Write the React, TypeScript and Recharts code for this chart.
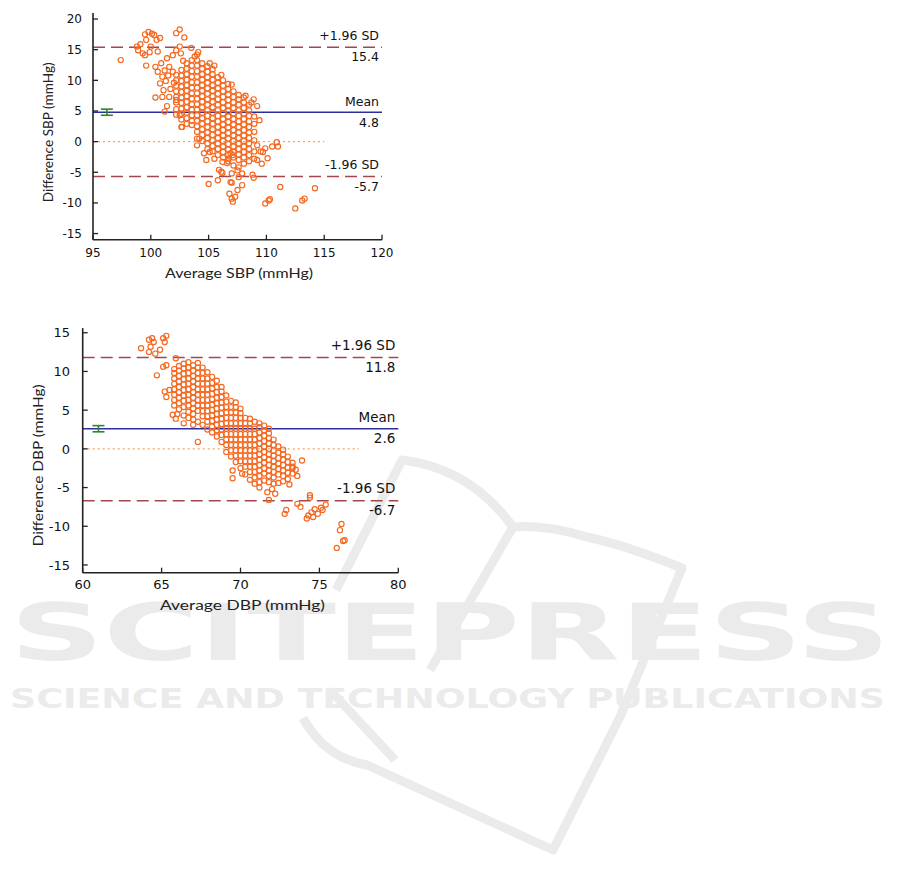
import React from 'react';
import { ScatterChart, Scatter, XAxis, YAxis, ReferenceLine, ErrorBar } from 'recharts';

// ---- SBP panel ----
const sbpXTicks = [95, 100, 105, 110, 115, 120];
const sbpYTicks = [-15, -10, -5, 0, 5, 10, 15, 20];
const sbpUpper = 15.4;
const sbpMean = 4.8;
const sbpLower = -5.7;
const sbpMeanCI = 0.5;

// dense part of the cloud, one column of differences per average value
const sbpCore: [number, number[]][] = [
  [102.2, [4.4, 5.3, 6.4, 7.3, 8.2, 9.1, 10.0, 10.9]],
  [102.65, [2.4, 3.6, 4.5, 5.4, 6.3, 7.2, 8.1, 9.0, 9.9, 10.8, 11.7]],
  [103.1, [2.9, 3.8, 4.7, 5.6, 6.5, 7.4, 8.3, 9.2, 10.1, 11.0, 11.9, 12.8]],
  [103.55, [2.7, 3.4, 4.3, 5.2, 6.1, 7.0, 7.9, 8.8, 9.7, 10.6, 11.5, 12.4, 13.3]],
  [104.0, [0.5, 1.6, 2.5, 3.4, 4.3, 5.2, 6.1, 7.0, 7.9, 8.8, 9.7, 10.6, 11.5, 12.4, 13.3, 14.2]],
  [104.45, [0.1, 1.1, 2.0, 2.9, 3.8, 4.7, 5.6, 6.5, 7.4, 8.3, 9.2, 10.1, 11.0, 11.9, 12.8]],
  [104.9, [-1.2, -0.3, 0.6, 1.5, 2.4, 3.3, 4.2, 5.1, 6.0, 6.9, 7.8, 8.7, 9.6, 10.5, 11.4, 12.3]],
  [105.35, [-1.6, -0.7, 0.2, 1.1, 2.0, 2.9, 3.8, 4.7, 5.6, 6.5, 7.4, 8.3, 9.2, 10.1, 11.0, 11.8]],
  [105.8, [-2.2, -1.2, -0.3, 0.6, 1.5, 2.4, 3.3, 4.2, 5.1, 6.0, 6.9, 7.8, 8.7, 9.6, 10.5]],
  [106.25, [-2.6, -1.7, -0.8, 0.1, 1.0, 1.9, 2.8, 3.7, 4.6, 5.5, 6.4, 7.3, 8.2, 9.1, 10.0]],
  [106.7, [-3.2, -2.2, -1.3, -0.4, 0.5, 1.4, 2.3, 3.2, 4.1, 5.0, 5.9, 6.8, 7.7, 8.6, 9.4]],
  [107.15, [-3.9, -2.6, -1.7, -0.8, 0.1, 1.0, 1.9, 2.8, 3.7, 4.6, 5.5, 6.4, 7.3, 8.2]],
  [107.6, [-4.2, -3.0, -2.1, -1.2, -0.3, 0.6, 1.5, 2.4, 3.3, 4.2, 5.1, 6.0, 6.9, 7.6]],
  [108.05, [-3.6, -2.6, -1.7, -0.8, 0.1, 1.0, 1.9, 2.8, 3.7, 4.6, 5.5, 6.4, 7.2]],
  [108.5, [-3.2, -2.2, -1.2, -0.3, 0.6, 1.5, 2.4, 3.3, 4.2, 5.1, 6.0]],
  [108.95, [-2.8, -1.6, 0.2, 1.6, 2.9, 4.1]],
];

const sbpSparse: [number, number][] = [
  [97.4, 13.3], [98.8, 15.5], [98.9, 14.9], [99.1, 15.9], [99.3, 14.4], [99.5, 17.5],
  [99.6, 16.6], [99.5, 14.1], [99.6, 12.4], [99.8, 17.9], [100.0, 15.5], [100.1, 17.6],
  [100.3, 17.4], [100.5, 16.6], [100.8, 16.9], [100.6, 14.7], [99.9, 14.6],
  [102.2, 17.7], [102.5, 18.3], [102.9, 17.0], [102.2, 14.9], [102.5, 15.5], [102.6, 14.4],
  [101.9, 14.1], [103.5, 15.3], [102.8, 13.2],
  [100.4, 12.2], [100.6, 11.4], [100.9, 12.8], [101.0, 10.6], [101.2, 11.6], [100.8, 9.5],
  [101.3, 9.9], [101.1, 8.4], [101.5, 10.8], [101.4, 13.6], [101.6, 12.2], [101.9, 11.4],
  [100.4, 7.2], [101.0, 7.3], [101.6, 7.3], [101.7, 8.6], [102.0, 9.6], [101.2, 4.9],
  [101.4, 5.8], [102.2, 6.8], [102.7, 2.4], [102.5, 4.3],
  [104.1, 14.6], [103.8, 13.9], [105.1, 12.8], [105.5, 12.4], [106.1, 10.9], [107.0, 9.3],
  [108.2, 7.5], [108.7, 6.4], [108.9, 6.9], [109.2, 5.8], [109.4, 3.5],
  [105.0, -6.9], [105.8, -6.3], [106.1, -4.9], [105.9, -4.6], [106.2, -5.1], [106.2, -3.3],
  [106.6, -3.5], [107.0, -5.2], [107.0, -6.7], [106.9, -6.6], [107.6, -5.8], [107.9, -5.2],
  [107.5, -4.7], [107.5, -7.9], [107.9, -7.1], [106.8, -8.5], [107.0, -9.3], [107.1, -9.8],
  [107.3, -9.0], [108.8, -5.4], [108.9, -5.9], [109.9, -10.1], [110.2, -9.6], [110.3, -9.4],
  [111.2, -7.4], [112.5, -10.9], [113.1, -9.6], [113.3, -9.3], [114.2, -7.6],
  [110.9, -0.1], [111.0, -0.8], [110.5, -0.8], [109.9, -1.1], [110.1, -2.7], [109.6, -3.6],
  [109.2, -3.0], [109.5, -1.6], [109.2, -0.6], [109.7, -1.7],
  [104.8, -3.0], [104.6, -1.9], [104.0, -0.6], [104.2, 0.5], [105.1, -1.7], [105.5, -2.8],
  [106.9, -1.9], [107.1, -2.2], [106.7, -2.8],
];

// ---- DBP panel ----
const dbpXTicks = [60, 65, 70, 75, 80];
const dbpYTicks = [-15, -10, -5, 0, 5, 10, 15];
const dbpUpper = 11.8;
const dbpMean = 2.6;
const dbpLower = -6.7;
const dbpMeanCI = 0.4;

const dbpCore: [number, number[]][] = [
  [65.8, [5.6, 6.3, 7.0, 7.7, 8.4, 9.1, 9.8, 10.3]],
  [66.1, [5.1, 5.9, 6.6, 7.3, 8.0, 8.7, 9.4, 10.1, 10.7]],
  [66.4, [4.3, 5.4, 6.2, 6.9, 7.6, 8.3, 9.0, 9.7, 10.4, 11.0]],
  [66.7, [4.0, 4.8, 5.6, 6.3, 7.0, 7.7, 8.4, 9.1, 9.8, 10.5, 11.2]],
  [67.0, [3.8, 4.5, 5.2, 5.9, 6.6, 7.3, 8.0, 8.7, 9.4, 10.1, 10.8]],
  [67.3, [3.5, 4.9, 5.6, 6.3, 7.0, 7.7, 8.4, 9.1, 9.8, 10.5, 11.1]],
  [67.6, [3.1, 4.2, 4.9, 5.6, 6.3, 7.0, 7.7, 8.4, 9.1, 9.8, 10.5]],
  [67.9, [2.5, 3.5, 4.2, 4.9, 5.6, 6.3, 7.0, 7.7, 8.4, 9.1, 9.9]],
  [68.2, [2.1, 2.9, 3.6, 4.3, 5.0, 5.7, 6.4, 7.1, 7.8, 8.5, 9.3]],
  [68.5, [1.6, 2.4, 3.1, 3.8, 4.5, 5.2, 5.9, 6.6, 7.3, 8.0, 8.8]],
  [68.8, [0.9, 1.8, 2.5, 3.2, 3.9, 4.6, 5.3, 6.0, 6.7, 7.4, 8.0]],
  [69.1, [-0.4, 0.5, 1.2, 1.9, 2.6, 3.3, 4.0, 4.7, 5.4, 6.1, 6.9]],
  [69.4, [-1.0, -0.2, 0.5, 1.2, 1.9, 2.6, 3.3, 4.0, 4.7, 5.4, 6.2]],
  [69.7, [-1.7, -0.9, -0.2, 0.5, 1.2, 1.9, 2.6, 3.3, 4.0, 4.7, 5.4, 6.0]],
  [70.0, [-2.5, -1.6, -0.9, -0.2, 0.5, 1.2, 1.9, 2.6, 3.3, 4.0, 4.6, 5.2]],
  [70.3, [-3.3, -2.3, -1.6, -0.9, -0.2, 0.5, 1.2, 1.9, 2.6, 3.3, 4.0]],
  [70.6, [-4.0, -3.0, -2.3, -1.6, -0.9, -0.2, 0.5, 1.2, 1.9, 2.6, 3.3, 3.9]],
  [70.9, [-4.5, -3.7, -3.0, -2.3, -1.6, -0.9, -0.2, 0.5, 1.2, 1.9, 2.6, 3.5]],
  [71.2, [-4.3, -3.5, -2.8, -2.1, -1.4, -0.7, 0.0, 0.7, 1.4, 2.1, 2.8, 3.3]],
  [71.5, [-4.1, -3.2, -2.5, -1.8, -1.1, -0.4, 0.3, 1.0, 1.7, 2.4, 3.0]],
  [71.8, [-4.3, -3.5, -2.8, -2.1, -1.4, -0.7, 0.0, 0.7, 1.4, 2.0, 2.6]],
  [72.1, [-4.5, -3.7, -3.0, -2.3, -1.6, -0.9, -0.2, 0.5, 1.2]],
  [72.4, [-4.4, -3.3, -2.6, -1.9, -1.2, -0.5, 0.3]],
  [72.7, [-4.2, -3.5, -2.8, -2.1, -1.4, -0.7, -0.1]],
  [73.0, [-3.9, -3.1, -2.4, -1.7, -1.0]],
  [73.3, [-3.2, -2.5, -1.8]],
];

const dbpSparse: [number, number][] = [
  [63.7, 13.0], [64.2, 14.1], [64.4, 14.3], [64.5, 13.8], [64.3, 13.2], [64.2, 12.5],
  [64.6, 12.3], [64.9, 12.8], [65.1, 14.3], [65.3, 14.6], [65.2, 13.8], [64.7, 9.5],
  [65.1, 10.6], [65.3, 10.8], [65.2, 7.4], [65.3, 6.7], [65.9, 11.7], [65.7, 4.4],
  [65.9, 3.9], [66.4, 3.3], [67.0, 3.1], [67.3, 0.9], [65.5, 7.6], [66.0, 4.5],
  [69.5, -2.8], [69.5, -3.8], [70.1, -3.2], [71.8, -6.6], [71.7, -5.6], [72.2, -5.8],
  [72.8, -8.4], [72.9, -7.9], [73.6, -7.1], [73.8, -7.5], [74.4, -6.0], [74.4, -6.3],
  [74.3, -8.6], [74.2, -9.0], [74.5, -8.2], [74.7, -7.8], [74.6, -8.8], [74.9, -8.4],
  [75.1, -7.6], [75.2, -7.9], [75.4, -7.2], [76.3, -10.5], [76.4, -9.7], [76.6, -11.8],
  [76.5, -11.9], [76.1, -12.8], [73.3, -2.3], [73.9, -1.5], [73.5, -2.7], [73.6, -3.5],
  [73.1, -4.6], [72.0, -5.2], [71.2, -5.0],
];

const ORANGE = '#f5681f';
const MAROON = '#a3474c';
const BLUE = '#2e2e9e';
const GREEN = '#2a8a2a';
const ZERO = '#f5a05a';
const AXIS = '#222';
const WATERMARK = '#ebebeb';
const NUM_FONT = 'DejaVu Sans, sans-serif';
const TITLE_FONT = 'Lato, sans-serif';

const Y_AXIS_W = 60;
const X_AXIS_H = 40;

type Pt = { x: number; y: number };

const toPoints = (core: [number, number[]][], sparse: [number, number][]): Pt[] => [
  ...core.flatMap(([x, ys]) => ys.map((y) => ({ x, y }))),
  ...sparse.map(([x, y]) => ({ x, y })),
];

const Ring = (props: any) => {
  const { cx, cy } = props;
  if (cx == null || cy == null) return <g />;
  return <circle cx={cx} cy={cy} r={2.6} fill="none" stroke={ORANGE} strokeWidth={1.15} />;
};

interface PanelProps {
  width: number;
  height: number;
  margin: { top: number; right: number; bottom: number; left: number };
  xDomain: [number, number];
  yDomain: [number, number];
  xTicks: number[];
  yTicks: number[];
  points: Pt[];
  upper: number;
  mean: number;
  lower: number;
  meanCI: number;
  ciX: number;
  zeroEnd: number;
  xTitle: string;
  yTitle: string;
  tickFont: number;
  labelFont: number;
  titleFont: number;
  yTickGap: number;
  xTickGap: number;
  xTitleLen: number;
  yTitleLen: number;
  xTitleShift: number;
  yTitleX: number;
  yTitleShift: number;
  titleGap: number;
}

function Panel(p: PanelProps) {
  const plotLeft = p.margin.left + Y_AXIS_W;
  const plotRight = p.width - p.margin.right;
  const plotTop = p.margin.top;
  const plotBottom = p.height - p.margin.bottom - X_AXIS_H;

  const xTick = (t: any) => (
    <g>
      <line x1={t.x} x2={t.x} y1={plotBottom} y2={plotBottom - 5} stroke={AXIS} strokeWidth={1.3} />
      <text x={t.x} y={plotBottom + p.xTickGap} textAnchor="middle" fontSize={p.tickFont} fontFamily={NUM_FONT} fill="#111">
        {t.payload.value}
      </text>
    </g>
  );

  const yTick = (t: any) => (
    <g>
      <line x1={plotLeft} x2={plotLeft + 5} y1={t.y} y2={t.y} stroke={AXIS} strokeWidth={1.3} />
      <text x={plotLeft - p.yTickGap} y={t.y} dy="0.36em" textAnchor="end" fontSize={p.tickFont} fontFamily={NUM_FONT} fill="#111">
        {t.payload.value}
      </text>
    </g>
  );

  const limitLabel = (name: string, value: number, above: number, below: number) => (lp: any) => {
    const vb = lp.viewBox || {};
    const right = (vb.x ?? 0) + (vb.width ?? 0) - 3;
    return (
      <g>
        <text x={right} y={vb.y - above} textAnchor="end" fontSize={p.labelFont} fontFamily={NUM_FONT} fill="#111">
          {name}
        </text>
        <text x={right} y={vb.y + below} textAnchor="end" fontSize={p.labelFont} fontFamily={NUM_FONT} fill="#111">
          {value.toFixed(1)}
        </text>
      </g>
    );
  };

  const xTitle = () => (
    <text
      x={(plotLeft + plotRight) / 2 + p.xTitleShift}
      y={plotBottom + p.titleGap}
      textAnchor="middle"
      fontSize={p.titleFont}
      fontFamily={TITLE_FONT}
      fill="#222"
      textLength={p.xTitleLen}
      lengthAdjust="spacingAndGlyphs"
    >
      {p.xTitle}
    </text>
  );

  const yCenter = (plotTop + plotBottom) / 2 + p.yTitleShift;
  const yTitle = () => (
    <text
      x={p.yTitleX}
      y={yCenter}
      transform={`rotate(-90 ${p.yTitleX} ${yCenter})`}
      textAnchor="middle"
      dy="0.35em"
      fontSize={p.titleFont}
      fontFamily={TITLE_FONT}
      fill="#222"
      textLength={p.yTitleLen}
      lengthAdjust="spacingAndGlyphs"
    >
      {p.yTitle}
    </text>
  );

  return (
    <ScatterChart width={p.width} height={p.height} margin={p.margin}>
      <XAxis
        type="number"
        dataKey="x"
        domain={p.xDomain}
        ticks={p.xTicks}
        interval={0}
        allowDataOverflow
        height={X_AXIS_H}
        tickLine={false}
        tickSize={0}
        axisLine={{ stroke: AXIS, strokeWidth: 1.6 }}
        tick={xTick}
        label={{ content: xTitle }}
      />
      <YAxis
        type="number"
        dataKey="y"
        domain={p.yDomain}
        ticks={p.yTicks}
        interval={0}
        allowDataOverflow
        width={Y_AXIS_W}
        tickLine={false}
        tickSize={0}
        axisLine={{ stroke: AXIS, strokeWidth: 1.6 }}
        tick={yTick}
        label={{ content: yTitle }}
      />
      <ReferenceLine
        segment={[{ x: p.xDomain[0], y: 0 }, { x: p.zeroEnd, y: 0 }]}
        stroke={ZERO}
        strokeWidth={1.2}
        strokeDasharray="2 3"
      />
      <Scatter data={p.points} shape={Ring} isAnimationActive={false} />
      <ReferenceLine y={p.upper} stroke={MAROON} strokeWidth={1.5} strokeDasharray="12 6" label={limitLabel('+1.96 SD', p.upper, 7.5, 14)} />
      <ReferenceLine y={p.mean} stroke={BLUE} strokeWidth={1.6} label={limitLabel('Mean', p.mean, 6.5, 14.5)} />
      <ReferenceLine y={p.lower} stroke={MAROON} strokeWidth={1.5} strokeDasharray="12 6" label={limitLabel('-1.96 SD', p.lower, 7.5, 14.3)} />
      <Scatter data={[{ x: p.ciX, y: p.mean, ci: p.meanCI }]} shape={() => <g />} isAnimationActive={false}>
        <ErrorBar dataKey="ci" direction="y" width={6} stroke={GREEN} strokeWidth={1.6} isAnimationActive={false} />
      </Scatter>
    </ScatterChart>
  );
}

export default function App() {
  return (
    <div style={{ position: 'absolute', left: 0, top: 0, width: 901, height: 887, background: '#fff', overflow: 'hidden' }}>
      <svg width={901} height={887} style={{ position: 'absolute', left: 0, top: 0 }}>
        <path
          d="M 303 718 Q 325 758 367 765 L 553 850 L 620 717 L 682 568 Q 625 545 587 537 Q 545 524 513 527 Q 470 468 402 460 L 336 590"
          fill="none"
          stroke={WATERMARK}
          strokeWidth={9}
          strokeLinejoin="round"
        />
        <path d="M 513 527 L 430 670 M 330 690 L 395 760" fill="none" stroke={WATERMARK} strokeWidth={9} />
        <text x={10} y={660} fontSize={78} fontWeight={700} fontFamily="DejaVu Sans, sans-serif" fill={WATERMARK} textLength={880} lengthAdjust="spacingAndGlyphs">
          SCITEPRESS
        </text>
        <text x={10} y={708} fontSize={27} fontWeight={700} fontFamily="DejaVu Sans, sans-serif" fill={WATERMARK} textLength={875} lengthAdjust="spacingAndGlyphs">
          SCIENCE AND TECHNOLOGY PUBLICATIONS
        </text>
      </svg>
      <div style={{ position: 'absolute', left: 0, top: 0 }}>
        <Panel
          width={400}
          height={290}
          margin={{ top: 12.9, right: 18, bottom: 10.3, left: 33 }}
          xDomain={[95, 120]}
          yDomain={[-16, 21]}
          xTicks={sbpXTicks}
          yTicks={sbpYTicks}
          points={toPoints(sbpCore, sbpSparse)}
          upper={sbpUpper}
          mean={sbpMean}
          lower={sbpLower}
          meanCI={sbpMeanCI}
          ciX={96.2}
          zeroEnd={115}
          xTitle="Average SBP (mmHg)"
          yTitle="Difference SBP (mmHg)"
          tickFont={12}
          labelFont={12.5}
          titleFont={14}
          yTickGap={11}
          xTickGap={16.8}
          xTitleLen={148}
          yTitleLen={140}
          xTitleShift={1.5}
          yTitleX={48}
          yTitleShift={6}
          titleGap={38}
        />
      </div>
      <div style={{ position: 'absolute', left: 0, top: 300 }}>
        <Panel
          width={420}
          height={320}
          margin={{ top: 28.1, right: 21.7, bottom: 7.3, left: 22.7 }}
          xDomain={[60, 80]}
          yDomain={[-16, 15.6]}
          xTicks={dbpXTicks}
          yTicks={dbpYTicks}
          points={toPoints(dbpCore, dbpSparse)}
          upper={dbpUpper}
          mean={dbpMean}
          lower={dbpLower}
          meanCI={dbpMeanCI}
          ciX={61}
          zeroEnd={77.5}
          xTitle="Average DBP (mmHg)"
          yTitle="Difference DBP (mmHg)"
          tickFont={13}
          labelFont={13.5}
          titleFont={14}
          yTickGap={12.7}
          xTickGap={16}
          xTitleLen={165}
          yTitleLen={162}
          xTitleShift={2}
          yTitleX={38.3}
          yTitleShift={15}
          titleGap={37.5}
        />
      </div>
    </div>
  );
}
